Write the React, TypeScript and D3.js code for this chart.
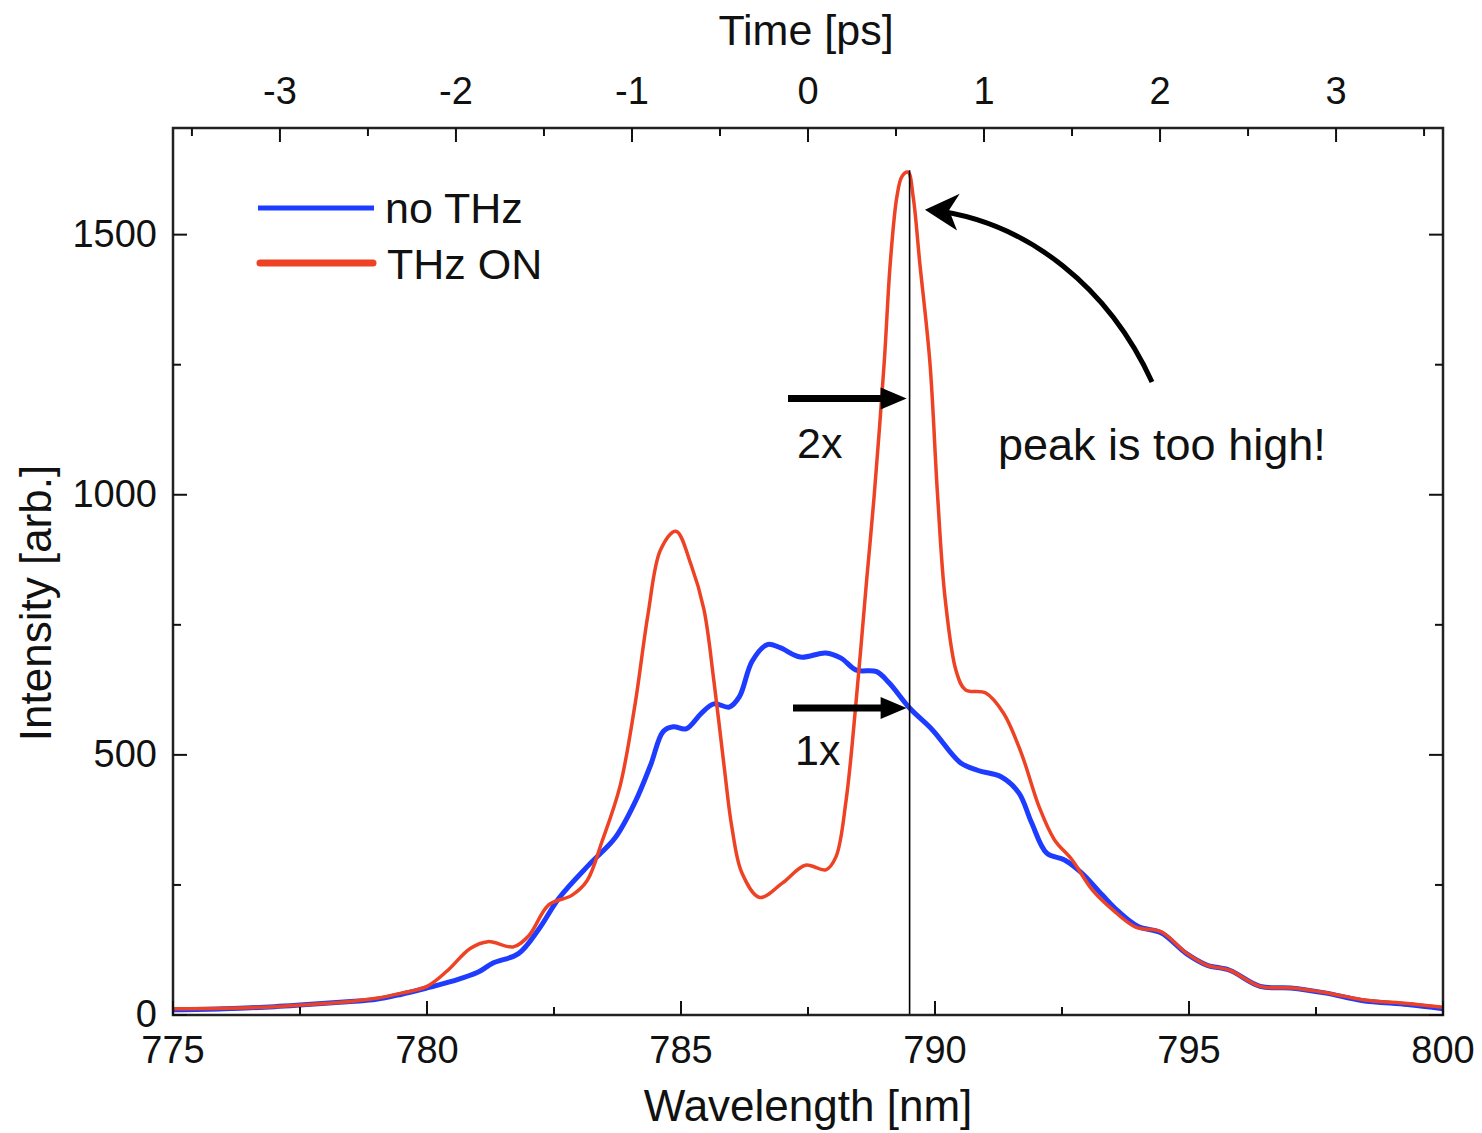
import React from "react";
import * as d3 from "d3";

// ---------- data ----------
const blueWl = [775, 776, 777, 777.5, 778.5, 779, 779.5, 780, 780.5, 781, 781.3, 781.8, 782.2, 782.6, 783.2, 783.7, 784.1, 784.4, 784.65, 784.85, 785.1, 785.4, 785.65, 785.95, 786.15, 786.4, 786.7, 786.95, 787.35, 787.85, 788.15, 788.45, 788.85, 789.1, 789.5, 789.95, 790.5, 790.85, 791.3, 791.65, 791.9, 792.2, 792.55, 792.9, 793.3, 793.6, 794.0, 794.45, 794.95, 795.35, 795.8, 796.4, 797.0, 797.7, 798.4, 799.3, 800];
const blueVal = [10, 12, 16, 19, 26, 30, 40, 52, 65, 82, 100, 118, 165, 225, 290, 340, 410, 480, 545, 554, 550, 580, 598, 592, 612, 680, 712, 706, 688, 696, 686, 663, 660, 638, 590, 548, 485, 470, 458, 427, 370, 311, 298, 272, 230, 200, 170, 158, 118, 96, 86, 55, 52, 42, 28, 20, 12];

const redWl = [775, 776, 777, 777.5, 778.5, 779, 779.5, 780, 780.4, 780.85, 781.2, 781.7, 782.0, 782.4, 782.85, 783.15, 783.45, 783.8, 784.1, 784.35, 784.6, 784.9, 785.2, 785.45, 785.65, 785.85, 786.0, 786.2, 786.55, 787.0, 787.45, 787.85, 788.05, 788.25, 788.45, 788.65, 788.8, 789.0, 789.12, 789.25, 789.35, 789.47, 789.57, 789.7, 789.9, 790.05, 790.2, 790.42, 790.6, 791.0, 791.35, 791.7, 792.05, 792.35, 792.7, 793.1, 793.5, 793.95, 794.45, 794.95, 795.35, 795.8, 796.4, 797.05, 797.75, 798.45, 799.3, 800];
const redVal = [12, 13, 16, 19, 26, 32, 42, 55, 85, 128, 141, 131, 152, 212, 230, 258, 335, 440, 600, 770, 895, 930, 865, 780, 640, 477, 362, 273, 226, 254, 288, 279, 304, 413, 606, 831, 995, 1254, 1446, 1573, 1612, 1620, 1573, 1446, 1254, 1000, 800, 660, 625, 619, 580, 503, 400, 337, 298, 240, 202, 169, 160, 119, 96, 86, 55, 52, 42, 29, 22, 15];

const seriesNames = ["no THz", "THz ON"];
const wlMajor = [775, 780, 785, 790, 795, 800];
const wlMinor = [777.5, 782.5, 787.5, 792.5, 797.5];
const yMajor = [0, 500, 1000, 1500];
const yMinor = [250, 750, 1250];
const tMajor = [-3, -2, -1, 0, 1, 2, 3];
const tMinor = [-3.5, -2.5, -1.5, -0.5, 0.5, 1.5, 2.5, 3.5];
const markerWl = 789.5;
const arrow2xVal = 1185;
const arrow1xVal = 590;
const t0Wl = 787.5;
const nmPerPs = 3.465;

const BLUE = "#1e3cff";
const RED = "#ee4224";
const FONT = "Liberation Sans, Arial, Helvetica, sans-serif";

export default function App() {
  const L = 173, R = 1443, T = 128, B = 1015;
  const x = d3.scaleLinear().domain([775, 800]).range([L, R]);
  const y = d3.scaleLinear().domain([0, 1705]).range([B, T]);
  const tx = d3
    .scaleLinear()
    .domain([(775 - t0Wl) / nmPerPs, (800 - t0Wl) / nmPerPs])
    .range([L, R]);

  const line = d3
    .line<[number, number]>()
    .x((d) => x(d[0]))
    .y((d) => y(d[1]))
    .curve(d3.curveCatmullRom.alpha(0.5));

  const blue = blueWl.map((w, i) => [w, blueVal[i]] as [number, number]);
  const red = redWl.map((w, i) => [w, redVal[i]] as [number, number]);

  const MAJ = 14, MIN = 8;
  const tickStyle = { stroke: "#111", strokeWidth: 2 };
  const mx = x(markerWl);

  const arrow = (yy: number, x0: number) => {
    const tip = mx - 3;
    return (
      <g>
        <line x1={x0} y1={yy} x2={tip - 20} y2={yy} stroke="#000" strokeWidth={7} />
        <path d={`M${tip},${yy} L${tip - 26},${yy - 11} L${tip - 26},${yy + 11} Z`} fill="#000" />
      </g>
    );
  };

  return (
    <svg width={1482} height={1133} style={{ position: "absolute", left: 0, top: 0, background: "#fff" }} fontFamily={FONT}>
      <rect width={1482} height={1133} fill="#fff" />
      {/* curves */}
      <path d={line(blue) || ""} fill="none" stroke={BLUE} strokeWidth={5} strokeLinejoin="round" />
      <path d={line(red) || ""} fill="none" stroke={RED} strokeWidth={3.5} strokeLinejoin="round" />

      {/* vertical marker */}
      <line x1={mx} x2={mx} y1={y(1620) - 2} y2={B} stroke="#000" strokeWidth={1.6} />

      {/* arrows */}
      {arrow(y(arrow2xVal), 788)}
      {arrow(y(arrow1xVal), 793)}
      <text x={797} y={458} fontSize={43} fill="#111">2x</text>
      <text x={795} y={765} fontSize={43} fill="#111">1x</text>

      {/* curved arrow */}
      <path d="M1152,382 C1110,290 1030,222 932,210" fill="none" stroke="#000" strokeWidth={5} />
      <path d="M927,210 L957,196 L948,210 L955,228 Z" fill="#000" stroke="#000" strokeWidth={2} strokeLinejoin="miter" />
      <text x={998} y={460} fontSize={45} fill="#111">peak is too high!</text>

      {/* frame */}
      <rect x={L} y={T} width={R - L} height={B - T} fill="none" stroke="#222" strokeWidth={2.5} />

      {/* bottom ticks */}
      {wlMajor.map((v) => (
        <g key={"bM" + v}>
          <line x1={x(v)} x2={x(v)} y1={B} y2={B - MAJ} {...tickStyle} />
          <text x={x(v)} y={1063} fontSize={38} textAnchor="middle" fill="#111">{v}</text>
        </g>
      ))}
      {wlMinor.map((v) => (
        <line key={"bm" + v} x1={x(v)} x2={x(v)} y1={B} y2={B - MIN} {...tickStyle} />
      ))}

      {/* top ticks */}
      {tMajor.map((v) => (
        <g key={"tM" + v}>
          <line x1={tx(v)} x2={tx(v)} y1={T} y2={T + MAJ} {...tickStyle} />
          <text x={tx(v)} y={104} fontSize={38} textAnchor="middle" fill="#111">{v}</text>
        </g>
      ))}
      {tMinor.map((v) => (
        <line key={"tm" + v} x1={tx(v)} x2={tx(v)} y1={T} y2={T + MIN} {...tickStyle} />
      ))}

      {/* left / right ticks */}
      {yMajor.map((v) => (
        <g key={"yM" + v}>
          <line x1={L} x2={L + MAJ} y1={y(v)} y2={y(v)} {...tickStyle} />
          <line x1={R} x2={R - MAJ} y1={y(v)} y2={y(v)} {...tickStyle} />
          <text x={157} y={y(v) + 12} fontSize={38} textAnchor="end" fill="#111">{v}</text>
        </g>
      ))}
      {yMinor.map((v) => (
        <g key={"ym" + v}>
          <line x1={L} x2={L + MIN} y1={y(v)} y2={y(v)} {...tickStyle} />
          <line x1={R} x2={R - MIN} y1={y(v)} y2={y(v)} {...tickStyle} />
        </g>
      ))}

      {/* axis titles */}
      <text x={806} y={45} fontSize={43} textAnchor="middle" fill="#111">Time [ps]</text>
      <text x={808} y={1121} fontSize={44} textAnchor="middle" fill="#111">Wavelength [nm]</text>
      <text transform="translate(51,603) rotate(-90)" fontSize={44} textAnchor="middle" fill="#111">Intensity [arb.]</text>

      {/* legend */}
      <line x1={258} x2={374} y1={208} y2={208} stroke={BLUE} strokeWidth={5} />
      <text x={385} y={223} fontSize={43} fill="#111">{seriesNames[0]}</text>
      <line x1={260} x2={373} y1={263} y2={263} stroke={RED} strokeWidth={7} strokeLinecap="round" />
      <text x={387} y={279} fontSize={43} fill="#111">{seriesNames[1]}</text>
    </svg>
  );
}
